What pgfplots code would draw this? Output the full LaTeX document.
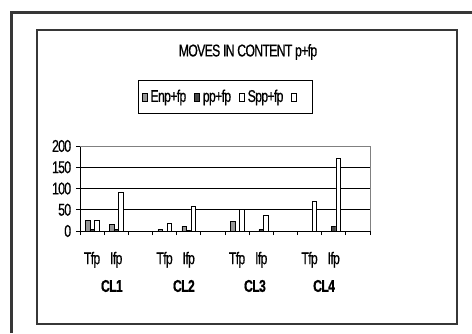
\documentclass[border=0pt]{standalone}
\usepackage{fontspec}
\setmainfont{Liberation Sans}[FakeStretch=0.72, LetterSpace=-4, FakeBold=0.6]
\usepackage{pgfplots}
\pgfplotsset{compat=1.18}

\definecolor{enpgray}{RGB}{150,150,150}
\definecolor{ppdark}{RGB}{70,70,70}
\definecolor{framegray}{RGB}{55,55,55}

% Categories: 0 CL1-Tfp, 1 CL1-Ifp, 2 gap, 3 CL2-Tfp, 4 CL2-Ifp, 5 gap,
%             6 CL3-Tfp, 7 CL3-Ifp, 8 gap, 9 CL4-Tfp, 10 CL4-Ifp, 11 gap
\pgfplotstableread{
x  v
0  25
1  15
3  3
4  11
6  23
}\enpfp
\pgfplotstableread{
x  v
0  3
1  3
4  2
7  3
10 11
}\ppfp
\pgfplotstableread{
x  v
0  25
1  92
3  18
4  58
6  50
7  37
9  70
10 172
}\sppfp

\newcommand{\chartfont}{\fontsize{17}{20}\selectfont}

\begin{document}
\begin{tikzpicture}
\chartfont
\useasboundingbox (0pt,0pt) rectangle (472pt,333pt);
% outer page frame (left and top edges visible)
\draw[framegray, line width=2.2pt] (11.5pt,0pt) -- (11.5pt,320.5pt) -- (472pt,320.5pt);
% chart frame
\draw[framegray, line width=1.4pt] (37pt,9pt) rectangle (457pt,303pt);
% title
\node[font=\chartfont] at (248pt,281pt) {MOVES IN CONTENT p+fp};

\begin{axis}[
  at={(80pt,102pt)}, anchor=south west,
  scale only axis, width=290pt, height=85pt,
  ybar=0pt, bar width=4.5pt,
  xmin=-0.5, xmax=11.5, ymin=0, ymax=200,
  axis x line*=bottom, axis y line*=left,
  axis line style={black, line width=0.8pt},
  xtick={0,...,11},
  xticklabels={Tfp,Ifp,,Tfp,Ifp,,Tfp,Ifp,,Tfp,Ifp,},
  major x tick style={draw=none},
  minor xtick={-0.5,0.5,...,11.5},
  minor x tick style={black, line width=0.8pt},
  minor tick length=4pt,
  xticklabel style={yshift=-11pt, font=\chartfont},
  ytick={0,50,...,200},
  tick align=outside,
  major tick length=4pt,
  ytick style={black, line width=0.8pt},
  yticklabel style={font=\chartfont, xshift=1pt},
  /pgf/number format/assume math mode=true,
  ymajorgrids, grid style={black, line width=0.8pt},
  clip=false,
  legend columns=-1,
  legend style={at={(rel axis cs:0.5,1.576)}, anchor=center,
    draw=black, line width=0.6pt, inner xsep=4pt, inner ysep=7pt,
    font=\chartfont,
    /tikz/every odd column/.append style={column sep=1pt},
    /tikz/every even column/.append style={column sep=6pt}},
  legend image code/.code={\draw[#1, line width=0.6pt] (0pt,-4pt) rectangle (5pt,4pt);},
  every axis plot/.append style={draw=black, line width=0.6pt},
]
\addplot[fill=enpgray] table[x=x, y=v] {\enpfp};
\addlegendentry{Enp+fp}
\addplot[fill=ppdark] table[x=x, y=v] {\ppfp};
\addlegendentry{pp+fp}
\addplot[fill=white] table[x=x, y=v] {\sppfp};
\addlegendentry{Spp+fp}
\addlegendimage{fill=white, draw=black}
\addlegendentry{\hspace*{6pt}}
% lighter right and top borders of the plot area
\draw[gray, line width=0.8pt] (rel axis cs:0,1) -- (rel axis cs:1,1) -- (rel axis cs:1,0);
% group labels
\node[font=\bfseries\chartfont] at (axis cs:0.82,0) [yshift=-55pt] {CL1};
\node[font=\bfseries\chartfont] at (axis cs:3.80,0) [yshift=-55pt] {CL2};
\node[font=\bfseries\chartfont] at (axis cs:6.74,0) [yshift=-55pt] {CL3};
\node[font=\bfseries\chartfont] at (axis cs:9.60,0) [yshift=-55pt] {CL4};
\end{axis}
\end{tikzpicture}
\end{document}
